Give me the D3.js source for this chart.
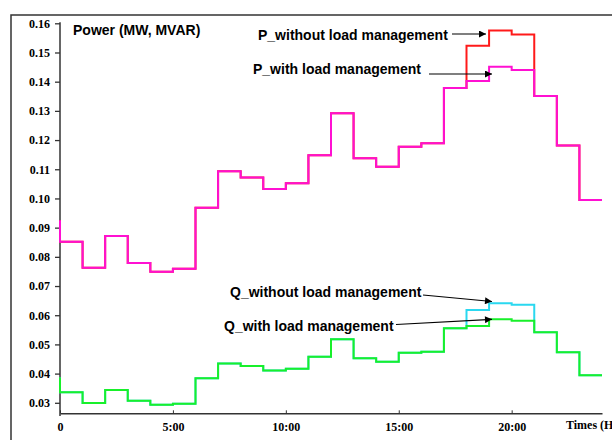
<!DOCTYPE html>
<html>
<head>
<meta charset="utf-8">
<script src="https://cdn.jsdelivr.net/npm/d3@7/dist/d3.min.js"></script>
<style>
    body { margin: 0; background: #fff; }
    svg { display: block; }
</style>
</head>
<body>
<div id="chart"></div>
<script>
// hourly values, hour 0 .. 23 (step held until next hour)
const hours = d3.range(0, 24);
const pWithout = [0.0852, 0.0763, 0.0871, 0.0779, 0.0749, 0.0759, 0.0968, 0.1093, 0.1072, 0.1032, 0.1052, 0.1148,
    0.1292, 0.1138, 0.1109, 0.1177, 0.1189, 0.1378, 0.1523, 0.1575, 0.1562, 0.1351, 0.1181, 0.0995];
const pWith = [0.0852, 0.0763, 0.0871, 0.0779, 0.0749, 0.0759, 0.0968, 0.1093, 0.1072, 0.1032, 0.1052, 0.1148,
    0.1292, 0.1138, 0.1109, 0.1177, 0.1189, 0.1378, 0.1402, 0.1451, 0.1440, 0.1351, 0.1181, 0.0995];
const qWithout = [0.0336, 0.0299, 0.0344, 0.0307, 0.0293, 0.0297, 0.0384, 0.0435, 0.0426, 0.0411, 0.0417, 0.0458,
    0.0518, 0.0453, 0.0441, 0.0471, 0.0475, 0.0555, 0.0618, 0.0641, 0.0636, 0.0542, 0.0473, 0.0394];
const qWith = [0.0336, 0.0299, 0.0344, 0.0307, 0.0293, 0.0297, 0.0384, 0.0435, 0.0426, 0.0411, 0.0417, 0.0458,
    0.0518, 0.0453, 0.0441, 0.0471, 0.0475, 0.0555, 0.0563, 0.0586, 0.0581, 0.0542, 0.0473, 0.0394];
// value shown at t = 0 before the first step
const pStart = 0.0925;
const qStart = 0.0387;

const yTicks = [0.03, 0.04, 0.05, 0.06, 0.07, 0.08, 0.09, 0.10, 0.11, 0.12, 0.13, 0.14, 0.15, 0.16];
const xTicks = [0, 5, 10, 15, 20];

const width = 612, height = 440;

const svg = d3.select("#chart").append("svg")
    .attr("width", width)
    .attr("height", height);

// outer frame (runs off the picture at right and bottom)
svg.append("path")
    .attr("d", "M11,445V15H620")
    .attr("fill", "none")
    .attr("stroke", "#333")
    .attr("stroke-width", 1.5);

const x = d3.scaleLinear().domain([0, 24]).range([60, 602]);
const y = d3.scaleLinear().domain([0.0264, 0.16]).range([413.3, 23.3]);

// y axis
const yAxis = svg.append("g")
    .attr("transform", "translate(60,0)")
    .call(d3.axisLeft(y).tickValues(yTicks).tickFormat(d3.format(".2f")).tickSize(5).tickSizeOuter(0));
yAxis.select(".domain").remove();
yAxis.append("line")
    .attr("x1", 0).attr("x2", 0)
    .attr("y1", y(0.16) - 1).attr("y2", 416)
    .attr("stroke", "#333").attr("stroke-width", 1.5);
yAxis.selectAll(".tick line").attr("stroke", "#333").attr("stroke-width", 1.3);
yAxis.selectAll(".tick text")
    .attr("x", -10)
    .attr("font-family", "'Liberation Serif', 'Times New Roman', serif")
    .attr("font-weight", "bold")
    .attr("font-size", 12)
    .attr("fill", "#000");

// x axis, small ticks pointing up
const xAxis = svg.append("g")
    .attr("transform", "translate(0," + y.range()[0] + ")")
    .call(d3.axisBottom(x).tickValues(xTicks)
        .tickFormat(d => d === 0 ? "0" : d + ":00")
        .tickSize(-3).tickSizeOuter(0).tickPadding(9));
xAxis.select(".domain").attr("stroke", "#333").attr("stroke-width", 1.5);
xAxis.selectAll(".tick line").attr("stroke", "#333");
xAxis.selectAll(".tick text")
    .attr("font-family", "'Liberation Serif', 'Times New Roman', serif")
    .attr("font-weight", "bold")
    .attr("font-size", 12)
    .attr("fill", "#000");

svg.append("text")
    .attr("x", 566)
    .attr("y", 429)
    .attr("font-family", "'Liberation Serif', 'Times New Roman', serif")
    .attr("font-weight", "bold")
    .attr("font-size", 12)
    .text("Times (Hours)");

svg.append("text")
    .attr("x", 73)
    .attr("y", 35)
    .attr("font-family", "'Liberation Sans', Arial, sans-serif")
    .attr("font-weight", "bold")
    .attr("font-size", 14)
    .text("Power (MW, MVAR)");

// step lines
function stepPoints(start, values) {
    const pts = [[0, start]];
    hours.forEach((h, i) => pts.push([h, values[i]]));
    pts.push([24, values[values.length - 1]]);
    return pts;
}

const line = d3.line()
    .x(d => x(d[0]))
    .y(d => y(d[1]))
    .curve(d3.curveStepAfter);

const series = [
    { values: pWithout, start: pStart, color: "#ff1a1a" },
    { values: pWith, start: pStart, color: "#ff10d2" },
    { values: qWithout, start: qStart, color: "#2ad8f0" },
    { values: qWith, start: qStart, color: "#18f02a" }
];

svg.selectAll("path.series")
    .data(series)
    .enter()
    .append("path")
    .attr("class", "series")
    .attr("d", d => line(stepPoints(d.start, d.values)))
    .attr("fill", "none")
    .attr("stroke", d => d.color)
    .attr("stroke-width", 2);

// annotations with arrows
svg.append("defs").append("marker")
    .attr("id", "arrow")
    .attr("viewBox", "0 0 10 10")
    .attr("refX", 10).attr("refY", 5)
    .attr("markerWidth", 9).attr("markerHeight", 7)
    .attr("markerUnits", "userSpaceOnUse")
    .attr("orient", "auto")
    .append("path")
    .attr("d", "M0,0L10,5L0,10Z")
    .attr("fill", "#000");

const notes = [
    { text: "P_without load management", tx: 258, ty: 40, x1: 452, y1: 34, x2: 486, y2: 34 },
    { text: "P_with load management", tx: 253, ty: 74, x1: 429, y1: 74, x2: 492, y2: 74 },
    { text: "Q_without load management", tx: 230, ty: 297, x1: 423, y1: 295, x2: 492, y2: 301.5 },
    { text: "Q_with load management", tx: 224, ty: 330.5, x1: 396, y1: 324.5, x2: 492, y2: 319.3 }
];

const note = svg.selectAll("g.note")
    .data(notes)
    .enter()
    .append("g")
    .attr("class", "note");

note.append("text")
    .attr("x", d => d.tx)
    .attr("y", d => d.ty)
    .attr("font-family", "'Liberation Sans', Arial, sans-serif")
    .attr("font-weight", "bold")
    .attr("font-size", 14)
    .attr("fill", "#000")
    .text(d => d.text);

note.append("line")
    .attr("x1", d => d.x1).attr("y1", d => d.y1)
    .attr("x2", d => d.x2).attr("y2", d => d.y2)
    .attr("stroke", "#000")
    .attr("stroke-width", 1.2)
    .attr("marker-end", "url(#arrow)");
</script>
</body>
</html>
